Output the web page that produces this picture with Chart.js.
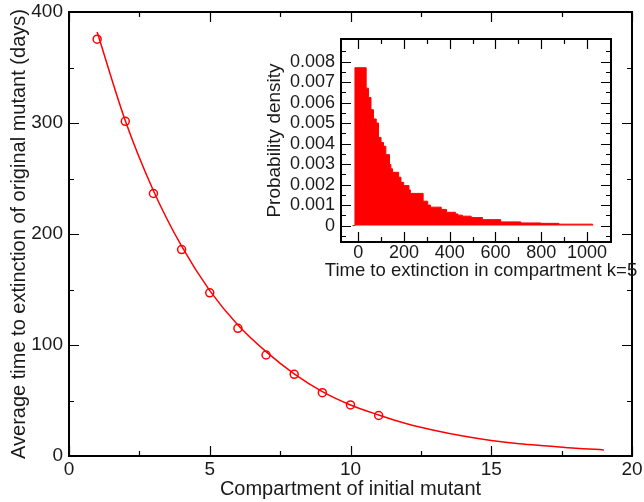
<!DOCTYPE html>
<html>
<head>
<meta charset="utf-8">
<script src="https://cdn.jsdelivr.net/npm/chart.js@4.4.0/dist/chart.umd.min.js"></script>
<style>
  html, body { margin: 0; padding: 0; background: #fff; }
  #wrap { position: relative; width: 644px; height: 502px; }
  #main { position: absolute; left: 0; top: 0; }
  #inset { position: absolute; left: 250px; top: 28px; }
</style>
</head>
<body>
<div id="wrap">
  <canvas id="main" width="644" height="502"></canvas>
  <canvas id="inset" width="394" height="260"></canvas>
</div>
<script>
// main plot: average extinction time per compartment
const compartments = [1, 2, 3, 4, 5, 6, 7, 8, 9, 10, 11];
const meanTimes = [375.5, 301.5, 236.5, 186, 147, 115, 91, 73.6, 57, 46, 36.5];

// fitted curve
const fitX = [1, 2, 3, 4, 5, 6, 7, 8, 9, 10, 11, 12, 13, 14, 15, 16, 17, 18, 19];
const fitY = [382, 302, 239, 189, 149, 118, 94, 74, 58, 46, 37, 29, 23, 18, 14, 11, 9, 7, 5.5];

const mainXTicks = [0, 5, 10, 15, 20];
const mainXMinor = [2.5, 7.5, 12.5, 17.5];
const mainYTicks = [0, 100, 200, 300, 400];
const mainYMinor = [50, 150, 250, 350];

// inset histogram (k=5): left bin edges and density
const binEdges = [-25, -14, 35, 45, 56, 67, 79, 89, 100, 111, 121, 137, 143, 150, 177, 187, 199, 222, 228,
  284, 304, 316, 363, 386, 425, 436, 455, 494, 543, 623, 711, 798, 877, 1025];
const binDensity = [0, 0.0077, 0.0067, 0.00625, 0.00565, 0.0052, 0.005, 0.0043, 0.00405, 0.00387, 0.00346,
  0.00298, 0.00277, 0.0026, 0.00236, 0.00211, 0.00195, 0.00174, 0.00157,
  0.00119, 0.001, 0.0009, 0.00079, 0.00065, 0.00057, 0.00051, 0.00046, 0.00039, 0.00029, 0.00018,
  0.00013, 0.00011, 0.00007, 0];

const insetXTicks = [0, 200, 400, 600, 800, 1000];
const insetXMinor = [100, 300, 500, 700, 900];
const insetYTicks = [0, 0.001, 0.002, 0.003, 0.004, 0.005, 0.006, 0.007, 0.008];
const insetYMinor = [-0.0005, 0.0005, 0.0015, 0.0025, 0.0035, 0.0045, 0.0055, 0.0065, 0.0075, 0.0085];

const FONT = 'Liberation Sans, Arial, sans-serif';
const TEXT = '#1a1a1a';

// box around the plot with inward ticks on all four sides
const frameTicks = {
  id: 'frameTicks',
  afterDatasetsDraw(chart, args, o) {
    const { ctx, chartArea: a, scales: { x, y } } = chart;
    ctx.save();
    ctx.strokeStyle = '#000';
    ctx.lineWidth = 1.2;
    ctx.beginPath();
    const vert = (vals, len) => vals.forEach(v => {
      const px = Math.round(x.getPixelForValue(v)) + 0.5;
      ctx.moveTo(px, a.bottom); ctx.lineTo(px, a.bottom - len);
      ctx.moveTo(px, a.top); ctx.lineTo(px, a.top + len);
    });
    const horz = (vals, len) => vals.forEach(v => {
      const py = Math.round(y.getPixelForValue(v)) + 0.5;
      ctx.moveTo(a.left, py); ctx.lineTo(a.left + len, py);
      ctx.moveTo(a.right, py); ctx.lineTo(a.right - len, py);
    });
    vert(o.xMajor, o.major); vert(o.xMinor, o.minor);
    horz(o.yMajor, o.major); horz(o.yMinor, o.minor);
    ctx.stroke();
    ctx.lineWidth = o.frame;
    ctx.strokeRect(a.left, a.top, a.right - a.left, a.bottom - a.top);
    ctx.restore();
  }
};

// axis titles drawn without the width clamp chart.js puts on scale titles
const axisTitles = {
  id: 'axisTitles',
  afterDraw(chart, args, o) {
    const { ctx, chartArea: a } = chart;
    ctx.save();
    ctx.fillStyle = TEXT;
    ctx.textAlign = 'center';
    ctx.textBaseline = 'middle';
    ctx.font = o.xSize + 'px ' + FONT;
    ctx.fillText(o.xText, (a.left + a.right) / 2 + (o.xShift || 0), o.xPos);
    ctx.translate(o.yPos, (a.top + a.bottom) / 2);
    ctx.rotate(-Math.PI / 2);
    ctx.font = o.ySize + 'px ' + FONT;
    ctx.fillText(o.yText, 0, 0);
    ctx.restore();
  }
};

// fixed-size axis box, no automatic label padding
function fixSize(key, val) {
  return s => {
    s[key] = val;
    s.paddingTop = 0; s.paddingBottom = 0; s.paddingLeft = 0; s.paddingRight = 0;
  };
}

function axis(min, max, tickVals, size, fit, pad) {
  return {
    type: 'linear', min, max,
    afterBuildTicks: s => { s.ticks = tickVals.map(v => ({ value: v })); },
    afterFit: fit,
    grid: { display: false, drawTicks: false },
    border: { display: false },
    ticks: {
      color: TEXT, autoSkip: false, maxRotation: 0, padding: pad,
      font: { family: FONT, size },
      callback: v => String(v)
    },
    title: { display: false }
  };
}

new Chart(document.getElementById('main').getContext('2d'), {
  type: 'scatter',
  data: {
    datasets: [
      {
        data: fitX.map((x, i) => ({ x, y: fitY[i] })),
        showLine: true,
        borderColor: '#ff0000',
        borderWidth: 1.5,
        pointRadius: 0,
        cubicInterpolationMode: 'monotone'
      },
      {
        data: compartments.map((x, i) => ({ x, y: meanTimes[i] })),
        showLine: false,
        pointStyle: 'circle',
        pointRadius: 4,
        borderColor: '#ff0000',
        borderWidth: 1.5,
        backgroundColor: 'rgba(0,0,0,0)'
      }
    ]
  },
  options: {
    responsive: false,
    animation: false,
    layout: { padding: { top: 12, right: 12, left: 0, bottom: 0 } },
    plugins: {
      legend: { display: false },
      tooltip: { enabled: false },
      frameTicks: { xMajor: mainXTicks, xMinor: mainXMinor, yMajor: mainYTicks, yMinor: mainYMinor, major: 10, minor: 5, frame: 2 },
      axisTitles: {
        xText: 'Compartment of initial mutant', xSize: 20, xPos: 489,
        yText: 'Average time to extinction of original mutant (days)', ySize: 20, yPos: 19
      }
    },
    scales: {
      x: axis(0, 20, mainXTicks, 19, fixSize('height', 46), 2),
      y: axis(0, 400, mainYTicks, 19, fixSize('width', 69), 6)
    }
  },
  plugins: [frameTicks, axisTitles]
});

new Chart(document.getElementById('inset').getContext('2d'), {
  type: 'scatter',
  data: {
    datasets: [{
      data: binEdges.map((x, i) => ({ x, y: binDensity[i] })),
      showLine: true,
      stepped: true,
      fill: 'origin',
      backgroundColor: '#ff0000',
      borderColor: '#ff0000',
      borderWidth: 1,
      pointRadius: 0
    }]
  },
  options: {
    responsive: false,
    animation: false,
    layout: { padding: { top: 11, right: 33, left: 0, bottom: 0 } },
    plugins: {
      legend: { display: false },
      tooltip: { enabled: false },
      frameTicks: { xMajor: insetXTicks, xMinor: insetXMinor, yMajor: insetYTicks, yMinor: insetYMinor, major: 10, minor: 5, frame: 2 },
      axisTitles: {
        xText: 'Time to extinction in compartment k=5', xSize: 18.5, xPos: 243, xShift: 5,
        yText: 'Probability density', ySize: 19, yPos: 25
      }
    },
    scales: {
      x: axis(-75, 1105, insetXTicks, 18, fixSize('height', 46), 0),
      y: axis(-0.0008, 0.0091, insetYTicks, 18, fixSize('width', 91), 6)
    }
  },
  plugins: [frameTicks, axisTitles]
});
</script>
</body>
</html>
